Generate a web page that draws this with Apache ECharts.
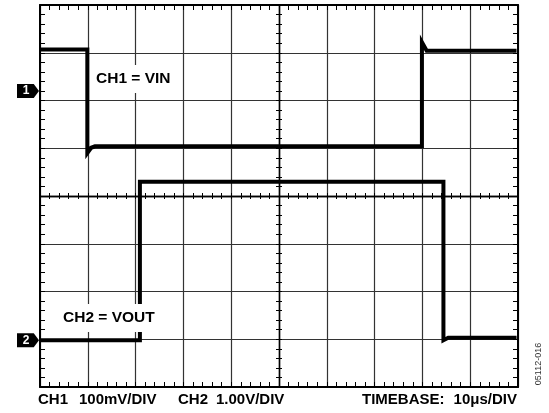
<!DOCTYPE html>
<html>
<head>
<meta charset="utf-8">
<script src="https://cdn.jsdelivr.net/npm/echarts@6/dist/echarts.min.js"></script>
<style>
  html, body { margin: 0; padding: 0; background: #fff; }
  #main { width: 549px; height: 413px; }
</style>
</head>
<body>
<div id="main"></div>
<script>
// horizontal: 10 divisions (-5..5), vertical: 8 divisions (-4..4)
const ch1X = [-5, -4.01, -4.01, -3.93, -3.85, 2.99, 2.99, 3.09, 4.97]
const ch1Y = [3.07, 3.07, 0.90, 1.01, 1.04, 1.04, 3.22, 3.04, 3.04]
const ch2X = [-5, -2.91, -2.91, 3.44, 3.44, 3.54, 4.97]
const ch2Y = [-3.02, -3.02, 0.30, 0.30, -3.02, -2.97, -2.97]
// channel markers on the left edge
const markerLevels = [2.2, -3.02]
const markerNames = ['1', '2']

const FONT = '"Liberation Sans", Arial, sans-serif'
const zip = (xs, ys) => xs.map((x, i) => [x, ys[i]])

const chart = echarts.init(document.getElementById('main'), null, { renderer: 'canvas' })

// axis helpers
function borderAxis (pos) {
  let horiz = pos === 'top' || pos === 'bottom'
  return {
    type: 'value', position: pos, min: horiz ? -5 : -4, max: horiz ? 5 : 4, interval: 1,
    axisLine: { show: true, onZero: false, lineStyle: { color: '#000', width: 2 } },
    axisTick: { show: true, inside: true, length: 5, lineStyle: { color: '#000', width: 1 } },
    minorTick: { show: true, splitNumber: 5, length: 5, lineStyle: { color: '#000', width: 1 } },
    axisLabel: { show: false },
    splitLine: { show: pos === 'bottom' || pos === 'left', lineStyle: { color: '#333', width: 1.2 } }
  }
}
function centerAxis (pos, inside, horizontal) {
  return {
    type: 'value', position: pos, min: horizontal ? -5 : -4, max: horizontal ? 5 : 4, interval: 1,
    axisLine: { show: true, onZero: true, onZeroAxisIndex: 0, lineStyle: { color: '#000', width: 1.3 } },
    axisTick: { show: true, inside: inside, length: 3, lineStyle: { color: '#000', width: 1 } },
    minorTick: { show: true, splitNumber: 5, length: 3, lineStyle: { color: '#000', width: 1 } },
    axisLabel: { show: false },
    splitLine: { show: false }
  }
}

function markerPoint (level, name) {
  return {
    coord: [-5, level],
    symbol: 'path://M0,0 L16,0 L21,7 L16,14 L0,14 Z',
    symbolSize: [22, 14],
    symbolOffset: [-12, 0],
    itemStyle: { color: '#000' },
    label: {
      show: true, formatter: name, position: 'inside', offset: [-2, 0],
      color: '#fff', fontFamily: FONT, fontWeight: 'bold', fontSize: 12
    }
  }
}

const traceStyle = { color: '#000', width: 4, join: 'miter' }

const option = {
  animation: false,
  backgroundColor: '#fff',
  grid: { left: 40, top: 5, width: 478, height: 382, containLabel: false },
  xAxis: [
    borderAxis('bottom'),
    borderAxis('top'),
    centerAxis('bottom', false, true),
    centerAxis('bottom', true, true)
  ],
  yAxis: [
    borderAxis('left'),
    borderAxis('right'),
    centerAxis('left', false, false),
    centerAxis('left', true, false)
  ],
  series: [
    {
      name: 'CH1', type: 'line', data: zip(ch1X, ch1Y), showSymbol: false, symbol: 'none',
      lineStyle: traceStyle, z: 5, clip: false,
      markPoint: { data: [markerPoint(markerLevels[0], markerNames[0])], silent: true }
    },
    {
      name: 'CH2', type: 'line', data: zip(ch2X, ch2Y), showSymbol: false, symbol: 'none',
      lineStyle: traceStyle, z: 5, clip: false,
      markPoint: { data: [markerPoint(markerLevels[1], markerNames[1])], silent: true }
    }
  ],
  graphic: [
    { type: 'text', x: 93, y: 79, z: 100,
      style: { text: 'CH1 = VIN', font: 'bold 15.5px ' + FONT, fill: '#000', verticalAlign: 'middle',
        backgroundColor: '#fff', padding: [6, 3] } },
    { type: 'text', x: 60, y: 318, z: 100,
      style: { text: 'CH2 = VOUT', font: 'bold 15.5px ' + FONT, fill: '#000', verticalAlign: 'middle',
        backgroundColor: '#fff', padding: [6, 3] } },
    { type: 'text', x: 38, y: 400, style: { text: 'CH1', font: 'bold 15px ' + FONT, fill: '#000', verticalAlign: 'middle' } },
    { type: 'text', x: 79, y: 400, style: { text: '100mV/DIV', font: 'bold 15px ' + FONT, fill: '#000', verticalAlign: 'middle' } },
    { type: 'text', x: 178, y: 400, style: { text: 'CH2', font: 'bold 15px ' + FONT, fill: '#000', verticalAlign: 'middle' } },
    { type: 'text', x: 216, y: 400, style: { text: '1.00V/DIV', font: 'bold 15px ' + FONT, fill: '#000', verticalAlign: 'middle' } },
    { type: 'text', x: 362, y: 400, style: { text: 'TIMEBASE:', font: 'bold 15px ' + FONT, fill: '#000', verticalAlign: 'middle' } },
    { type: 'text', x: 517, y: 400, style: { text: '10\u03bcs/DIV', font: 'bold 15px ' + FONT, fill: '#000', align: 'right', verticalAlign: 'middle' } },
    { type: 'text', x: 539, y: 364, rotation: Math.PI / 2,
      style: { text: '05112-016', font: '9px ' + FONT, fill: '#333', align: 'center', verticalAlign: 'middle' } }
  ]
}

chart.setOption(option)
</script>
</body>
</html>
